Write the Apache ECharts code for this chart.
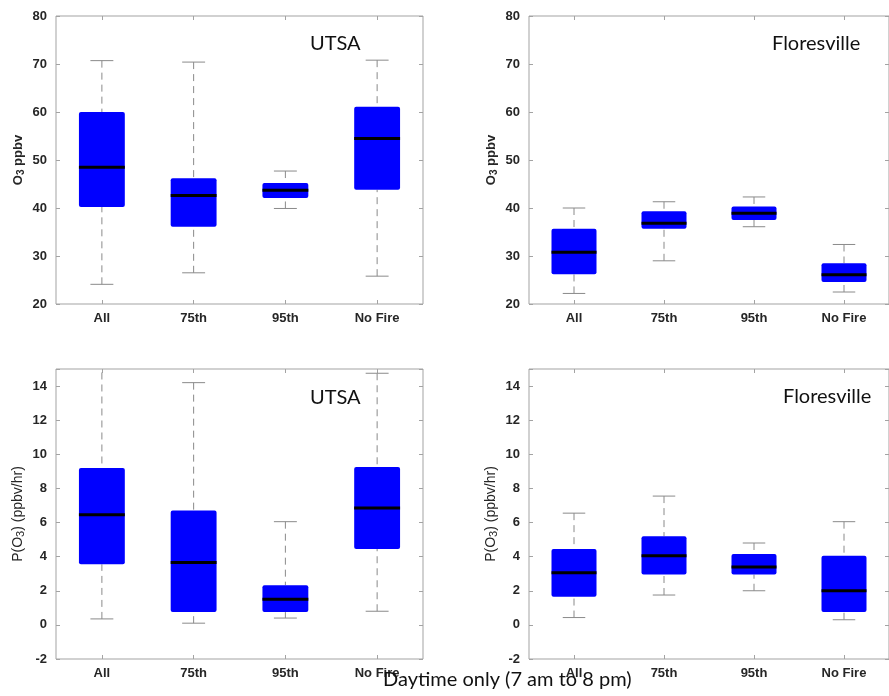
<!DOCTYPE html>
<html>
<head>
<meta charset="utf-8">
<script src="https://cdn.jsdelivr.net/npm/echarts@6/dist/echarts.min.js"></script>
<style>
  html, body { margin: 0; padding: 0; background: #fff; }
  #chart { width: 889px; height: 696px; }
</style>
</head>
<body>
<div id="chart"></div>
<script>
const categories = ['All', '75th', '95th', 'No Fire'];

// each row: [lower whisker, q1, median, q3, upper whisker]
const utsaO3 = [
  [24.1, 40.2, 48.5, 60.0, 70.7],
  [26.5, 36.1, 42.6, 46.2, 70.4],
  [39.9, 42.1, 43.7, 45.2, 47.7],
  [25.8, 43.8, 54.5, 61.1, 70.8]
];
const floresO3 = [
  [22.2, 26.2, 30.8, 35.7, 40.0],
  [29.0, 35.7, 36.8, 39.3, 41.3],
  [36.1, 37.5, 38.9, 40.3, 42.3],
  [22.5, 24.6, 26.1, 28.5, 32.4]
];
const utsaPO3 = [
  [0.35, 3.55, 6.45, 9.2, 15.5],
  [0.1, 0.75, 3.65, 6.7, 14.2],
  [0.4, 0.75, 1.5, 2.33, 6.05],
  [0.8, 4.45, 6.85, 9.25, 14.75]
];
const floresPO3 = [
  [0.43, 1.65, 3.05, 4.45, 6.55],
  [1.75, 2.95, 4.05, 5.2, 7.55],
  [2.0, 2.95, 3.4, 4.15, 4.8],
  [0.3, 0.75, 2.0, 4.05, 6.05]
];

const o3Ticks = [20, 30, 40, 50, 60, 70, 80];
const po3Ticks = [-2, 0, 2, 4, 6, 8, 10, 12, 14];

const panelTitles = ['UTSA', 'Floresville', 'UTSA', 'Floresville'];

const chart = echarts.init(document.getElementById('chart'));

const grids = [
  { left: 56, top: 16, width: 367, height: 288 },
  { left: 529, top: 16, width: 367, height: 288 },
  { left: 56, top: 369, width: 367, height: 290 },
  { left: 529, top: 369, width: 367, height: 290 }
].map(g => Object.assign(g, { show: true, borderColor: '#a3a3a3', borderWidth: 1 }));

const tickFont = { color: '#262626', fontWeight: 'bold', fontSize: 13, fontFamily: 'Liberation Sans' };
const tickLine = { color: '#a3a3a3' };

function makeX(gi, mirror) {
  return {
    type: 'category', gridIndex: gi, data: categories,
    position: mirror ? 'top' : 'bottom',
    axisLine: { show: false, onZero: false },
    axisTick: { show: true, inside: true, alignWithLabel: true, length: 4, lineStyle: tickLine },
    axisLabel: Object.assign({ show: !mirror, margin: 8 }, tickFont),
    splitLine: { show: false }
  };
}

function makeY(gi, ticks, max, name, bold, size, mirror) {
  return {
    type: 'value', gridIndex: gi, min: ticks[0], max: max, interval: ticks[1] - ticks[0],
    position: mirror ? 'right' : 'left',
    name: mirror ? '' : name, nameLocation: 'middle', nameRotate: 90, nameGap: 30,
    nameTextStyle: {
      rich: {
        n: { fontSize: size, fontWeight: bold ? 'bold' : 'normal', color: '#262626', fontFamily: 'Liberation Sans', lineHeight: 15 },
        s: { fontSize: size - 3, fontWeight: bold ? 'bold' : 'normal', color: '#262626', fontFamily: 'Liberation Sans', lineHeight: 8, verticalAlign: 'bottom' }
      }
    },
    axisLine: { show: false, onZero: false },
    axisTick: {
      show: true, inside: true, length: 4, lineStyle: tickLine,
      interval: (idx, v) => ticks.includes(Number(v))
    },
    axisLabel: Object.assign({ show: !mirror, margin: 9, formatter: v => ticks.includes(v) ? String(v) : '' }, tickFont),
    splitLine: { show: false }
  };
}

function renderBox(params, api) {
  const i = api.value(0);
  const low = api.coord([i, api.value(1)]);
  const q1 = api.coord([i, api.value(2)]);
  const med = api.coord([i, api.value(3)]);
  const q3 = api.coord([i, api.value(4)]);
  const high = api.coord([i, api.value(5)]);
  const band = api.size([1, 0])[0];
  const bw = band * 0.5, cw = band * 0.25;
  const cx = low[0];
  const dash = { stroke: '#8a8a8a', lineWidth: 1, lineDash: [7, 5] };
  const cap = { stroke: '#8a8a8a', lineWidth: 1 };
  return {
    type: 'group',
    children: [
      { type: 'line', shape: { x1: cx, y1: high[1], x2: cx, y2: q3[1] }, style: dash },
      { type: 'line', shape: { x1: cx, y1: low[1], x2: cx, y2: q1[1] }, style: dash },
      { type: 'line', shape: { x1: cx - cw / 2, y1: high[1], x2: cx + cw / 2, y2: high[1] }, style: cap },
      { type: 'line', shape: { x1: cx - cw / 2, y1: low[1], x2: cx + cw / 2, y2: low[1] }, style: cap },
      { type: 'rect', shape: { x: cx - bw / 2, y: q3[1], width: bw, height: q1[1] - q3[1], r: 2 }, style: { fill: '#0000ff' } },
      { type: 'line', shape: { x1: cx - bw / 2, y1: med[1], x2: cx + bw / 2, y2: med[1] }, style: { stroke: '#000', lineWidth: 3 } }
    ]
  };
}

const panels = [utsaO3, floresO3, utsaPO3, floresPO3];
const o3Name = '{n|O}{s|3}{n| ppbv}';
const po3Name = '{n|P(O}{s|3}{n|) (ppbv/hr)}';

const option = {
  animation: false,
  backgroundColor: '#fff',
  title: [
    { text: panelTitles[0], left: 305, top: 29 },
    { text: panelTitles[1], left: 767, top: 29 },
    { text: panelTitles[2], left: 305, top: 383 },
    { text: panelTitles[3], left: 778, top: 382 }
  ].map(t => Object.assign(t, { textStyle: { fontFamily: 'Lato', fontWeight: 'normal', fontSize: 20, color: '#111' } })),
  grid: grids,
  xAxis: [0, 1, 2, 3].map(gi => makeX(gi, false)).concat([0, 1, 2, 3].map(gi => makeX(gi, true))),
  yAxis: [
    makeY(0, o3Ticks, 80, o3Name, true, 13, false),
    makeY(1, o3Ticks, 80, o3Name, true, 13, false),
    makeY(2, po3Ticks, 15, po3Name, false, 14, false),
    makeY(3, po3Ticks, 15, po3Name, false, 14, false),
    makeY(0, o3Ticks, 80, '', true, 13, true),
    makeY(1, o3Ticks, 80, '', true, 13, true),
    makeY(2, po3Ticks, 15, '', false, 14, true),
    makeY(3, po3Ticks, 15, '', false, 14, true)
  ],
  series: panels.map((rows, gi) => ({
    type: 'custom',
    xAxisIndex: gi, yAxisIndex: gi,
    clip: true,
    renderItem: renderBox,
    encode: { x: 0, y: [1, 2, 3, 4, 5] },
    data: rows.map((r, i) => [i].concat(r))
  })),
  graphic: [{
    type: 'text', left: 383, top: 670, z: 100,
    style: { text: 'Daytime only (7 am to 8 pm)', fontFamily: 'Lato', fontSize: 20, fill: '#111' }
  }]
};

chart.setOption(option);
</script>
</body>
</html>
